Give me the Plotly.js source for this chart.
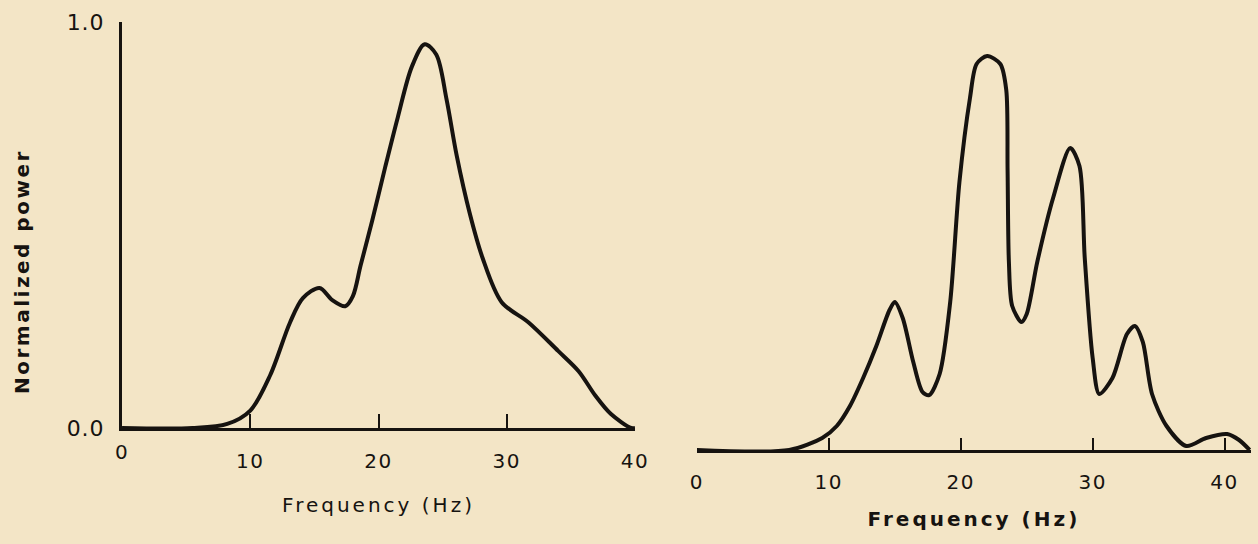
<!DOCTYPE html>
<html>
<head>
<meta charset="utf-8">
<script src="https://cdn.plot.ly/plotly-3.0.1.min.js"></script>
<style>
  html, body { margin: 0; padding: 0; background: #f3e5c6; }
  #chart { width: 1258px; height: 544px; }
  .xtitle, .x2title { letter-spacing: 3px; }
  .xtick text, .x2tick text { letter-spacing: 1.5px; }
  .ytick text { letter-spacing: 1px; }
  .annotation-text { letter-spacing: 2.5px; }
</style>
</head>
<body>
<div id="chart"></div>
<script>
// Left panel spectrum
const leftFreq  = [0, 5.5, 8.2, 10.0, 11.55, 13.1, 14.1, 15.4, 16.4, 17.4, 18.0, 18.6, 19.5, 20.5, 21.5, 22.6, 23.6, 24.5, 25.3, 26.1, 27.1, 28.1, 29.6, 31.7, 34.0, 35.6, 36.9, 38.1, 39.7, 40];
const leftPower = [0, 0, 0.01, 0.043, 0.13, 0.26, 0.32, 0.345, 0.315, 0.30, 0.325, 0.40, 0.51, 0.64, 0.765, 0.89, 0.945, 0.92, 0.81, 0.67, 0.53, 0.42, 0.31, 0.26, 0.19, 0.14, 0.08, 0.035, 0.0, 0];

// Right panel spectrum
const rightFreq  = [0, 7.0, 9.5, 10.6, 11.6, 12.6, 13.6, 14.6, 15.0, 15.6, 16.4, 17.1, 17.6, 18.4, 19.2, 19.9, 20.7, 21.2, 22.0, 23.0, 23.45, 23.55, 23.65, 23.9, 24.6, 25.0, 25.8, 27.0, 28.3, 29.0, 29.4, 30.0, 30.5, 31.5, 32.6, 33.2, 33.8, 34.5, 35.6, 37.1, 38.6, 40.2, 41.1, 41.9];
const rightPower = [0, 0, 0.03, 0.06, 0.11, 0.18, 0.26, 0.35, 0.37, 0.33, 0.22, 0.145, 0.137, 0.19, 0.37, 0.67, 0.88, 0.965, 0.985, 0.965, 0.90, 0.70, 0.47, 0.36, 0.32, 0.34, 0.47, 0.63, 0.755, 0.71, 0.48, 0.23, 0.14, 0.18, 0.29, 0.31, 0.27, 0.14, 0.06, 0.01, 0.03, 0.04, 0.025, 0];

const xTicks = [0, 10, 20, 30, 40];
const xTickText = ["0", "10", "20", "30", "40"];
const yTicks = [0, 1];
const yTickText = ["0.0", "1.0"];

const xTitle = "Frequency (Hz)";
const yTitle = "Normalized power";

const ink = "#161310";
const bg = "#f3e5c6";
const fontFam = "DejaVu Sans, Verdana, sans-serif";

const traces = [
  {
    x: leftFreq, y: leftPower, xaxis: "x", yaxis: "y",
    type: "scatter", mode: "lines",
    line: { color: ink, width: 4, shape: "spline", smoothing: 0.9 },
    hoverinfo: "x+y", showlegend: false
  },
  {
    x: rightFreq, y: rightPower, xaxis: "x2", yaxis: "y2",
    type: "scatter", mode: "lines",
    line: { color: ink, width: 4, shape: "spline", smoothing: 0.8 },
    hoverinfo: "x+y", showlegend: false
  }
];

const layout = {
  width: 1258, height: 544,
  paper_bgcolor: bg, plot_bgcolor: bg,
  margin: { l: 0, r: 0, t: 0, b: 0 },
  showlegend: false,
  font: { family: fontFam, color: ink, size: 20 },
  xaxis: {
    domain: [0.097, 0.5048], range: [0, 40], anchor: "y",
    showgrid: false, zeroline: false,
    showline: true, linecolor: ink, linewidth: 3,
    ticks: "inside", ticklen: 14, tickwidth: 2, tickcolor: ink,
    tickvals: [10, 20, 30, 40], ticktext: ["10", "20", "30", "40"],
    ticklabelstandoff: 13,
    tickfont: { family: fontFam, size: 20, color: ink },
    title: { text: xTitle, standoff: 26, font: { family: fontFam, size: 20, color: ink } },
    fixedrange: true
  },
  yaxis: {
    domain: [0.2132, 0.9596], range: [0, 1], anchor: "x",
    showgrid: false, zeroline: false,
    showline: true, linecolor: ink, linewidth: 3,
    ticks: "inside", ticklen: 10, tickwidth: 2, tickcolor: ink,
    tickvals: yTicks, ticktext: yTickText,
    ticklabelstandoff: 10,
    tickfont: { family: fontFam, size: 22, color: ink },
    fixedrange: true
  },
  xaxis2: {
    domain: [0.554, 0.9944], range: [0, 42], anchor: "y2",
    showgrid: false, zeroline: false,
    showline: true, linecolor: ink, linewidth: 3,
    ticks: "inside", ticklen: 12, tickwidth: 2, tickcolor: ink,
    tickvals: xTicks, ticktext: xTickText,
    ticklabelstandoff: 12,
    tickfont: { family: fontFam, size: 20, color: ink },
    title: { text: xTitle, standoff: 20, font: { family: fontFam, size: 20, color: ink, weight: "bold" } },
    fixedrange: true
  },
  yaxis2: {
    domain: [0.1728, 0.9081], range: [0, 1], anchor: "x2",
    visible: false, fixedrange: true
  },
  annotations: [
    { text: "0", xref: "x", yref: "paper", x: 0, y: 1 - 452 / 544, showarrow: false,
      font: { family: fontFam, size: 20, color: ink }, xanchor: "center", yanchor: "middle" },
    { text: yTitle, xref: "paper", yref: "paper", x: 22 / 1258, y: 1 - 272 / 544,
      showarrow: false, textangle: -90,
      font: { family: fontFam, size: 20, color: ink, weight: "bold" },
      xanchor: "center", yanchor: "middle" }
  ]
};

Plotly.newPlot("chart", traces, layout, { displayModeBar: false });
</script>
</body>
</html>
